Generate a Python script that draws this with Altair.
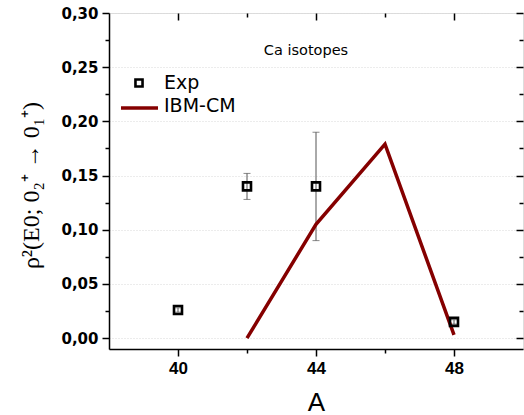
import altair as alt
import pandas as pd

# Experimental E0 strengths for the Ca chain
a_exp = [40, 42, 44, 48]
rho_exp = [0.026, 0.140, 0.140, 0.015]
err_exp = [0.002, 0.012, 0.050, 0.002]

# IBM with configuration mixing
a_ibm = [42, 44, 46, 48]
rho_ibm = [0.000, 0.105, 0.179, 0.003]

series_names = ["Exp", "IBM-CM"]
panel_label = "Ca isotopes"

x_major = [40, 44, 48]
x_minor = [42, 46]
y_major = [0.0, 0.05, 0.10, 0.15, 0.20, 0.25, 0.30]
y_minor = [0.025, 0.075, 0.125, 0.175, 0.225, 0.275]

exp_df = pd.DataFrame({"A": a_exp, "rho": rho_exp, "err": err_exp})
exp_df["lo"] = exp_df["rho"] - exp_df["err"]
exp_df["hi"] = exp_df["rho"] + exp_df["err"]
ibm_df = pd.DataFrame({"A": a_ibm, "rho": rho_ibm})

xs = alt.Scale(domain=[38, 50], nice=False, zero=False)
ys = alt.Scale(domain=[-0.01, 0.30], nice=False, zero=False)

DARK_RED = "#850000"
comma_fmt = "replace(format(datum.value, '.2f'), '.', ',')"

base_exp = alt.Chart(exp_df)

# error bars and caps
err_rule = base_exp.mark_rule(color="#555555", strokeWidth=1).encode(
    x=alt.X("A:Q", scale=xs, axis=None),
    y=alt.Y("lo:Q", scale=ys, axis=None),
    y2="hi:Q",
)
cap_lo = base_exp.mark_tick(orient="horizontal", size=7, thickness=1, color="#555555").encode(
    x=alt.X("A:Q", scale=xs, axis=None),
    y=alt.Y("lo:Q", scale=ys, axis=None),
)
cap_hi = base_exp.mark_tick(orient="horizontal", size=7, thickness=1, color="#555555").encode(
    x=alt.X("A:Q", scale=xs, axis=None),
    y=alt.Y("hi:Q", scale=ys, axis=None),
)

ibm_line = alt.Chart(ibm_df).mark_line(color=DARK_RED, strokeWidth=3.5).encode(
    x=alt.X("A:Q", scale=xs, axis=None),
    y=alt.Y("rho:Q", scale=ys, axis=None),
)

# experimental points carry the main bottom/left axes
exp_pts = base_exp.mark_point(shape="square", filled=False, color="black",
                              strokeWidth=2.6, size=64, opacity=1).encode(
    x=alt.X("A:Q", scale=xs, title="A", axis=alt.Axis(
        values=x_major, tickSize=7, tickWidth=1.5, tickColor="black",
        domainColor="black", domainWidth=1.5,
        labelFont="Liberation Sans", labelFontWeight="bold", labelFontSize=17,
        labelColor="black", labelPadding=4, grid=False,
        titleFont="Liberation Sans", titleFontSize=26, titleFontWeight="normal",
        titleColor="black", titlePadding=13)),
    y=alt.Y("rho:Q", scale=ys, title="ρ²(E0; 0₂⁺ → 0₁⁺)", axis=alt.Axis(
        values=y_major, tickSize=7, tickWidth=1.5, tickColor="black",
        domainColor="black", domainWidth=1.5,
        labelFont="DejaVu Sans", labelFontWeight="bold", labelFontSize=15,
        labelColor="black", labelPadding=4, labelExpr=comma_fmt,
        grid=True, gridColor="#d9d9d9", gridDash=[1, 2], gridWidth=1,
        titleFont="Liberation Serif", titleFontSize=24, titleFontWeight="normal",
        titleColor="black", titleAngle=-90, titleAlign="center",
        titleBaseline="alphabetic", titleX=-71, titleY=172)),
)

def tick_layer(xvals, yvals, size, orient_x, orient_y, offset):
    return base_exp.mark_point(opacity=0).encode(
        x=alt.X("A:Q", scale=xs, title=None, axis=alt.Axis(
            orient=orient_x, values=xvals, tickSize=size, tickWidth=1.5,
            tickColor="black", labels=False, domain=False, grid=False,
            offset=offset)),
        y=alt.Y("rho:Q", scale=ys, title=None, axis=alt.Axis(
            orient=orient_y, values=yvals, tickSize=size, tickWidth=1.5,
            tickColor="black", labels=False, domain=False, grid=False,
            offset=offset)),
    )

minor_out = tick_layer(x_minor, y_minor, 4, "bottom", "left", 0)
major_in = tick_layer(x_major, y_major, 7, "top", "right", -7)
minor_in = tick_layer(x_minor, y_minor, 4, "top", "right", -4)

# legend and panel label
legend_df = pd.DataFrame({"name": series_names})
leg_exp_sym = alt.Chart(legend_df.iloc[[0]]).mark_point(
    shape="square", filled=False, color="black", strokeWidth=2.6, size=50, opacity=1
).encode(x=alt.value(30), y=alt.value(70))
leg_exp_txt = alt.Chart(legend_df.iloc[[0]]).mark_text(
    align="left", baseline="middle", font="DejaVu Sans", fontSize=19, color="black"
).encode(x=alt.value(55), y=alt.value(70), text="name:N")
leg_ibm_sym = alt.Chart(legend_df.iloc[[1]]).mark_rule(
    color=DARK_RED, strokeWidth=3.5
).encode(x=alt.value(12), x2=alt.value(49), y=alt.value(95))
leg_ibm_txt = alt.Chart(legend_df.iloc[[1]]).mark_text(
    align="left", baseline="middle", font="DejaVu Sans", fontSize=19, color="black"
).encode(x=alt.value(55), y=alt.value(93), text="name:N")
label_txt = alt.Chart(pd.DataFrame({"t": [panel_label]})).mark_text(
    align="center", baseline="middle", font="DejaVu Sans", fontSize=14.5, color="black"
).encode(x=alt.value(197), y=alt.value(38), text="t:N")

chart = alt.layer(
    minor_out, major_in, minor_in,
    err_rule, cap_lo, cap_hi, ibm_line, exp_pts,
    leg_exp_sym, leg_exp_txt, leg_ibm_sym, leg_ibm_txt, label_txt,
).resolve_axis(x="independent", y="independent").properties(
    width=414, height=336,
    autosize=alt.AutoSizeParams(type="none"),
    padding={"left": 109, "top": 13, "right": 1, "bottom": 66},
).configure_view(stroke="black", strokeWidth=1.5).configure(background="white")

chart.save("out.html", embed_options={"renderer": "svg", "actions": False})
